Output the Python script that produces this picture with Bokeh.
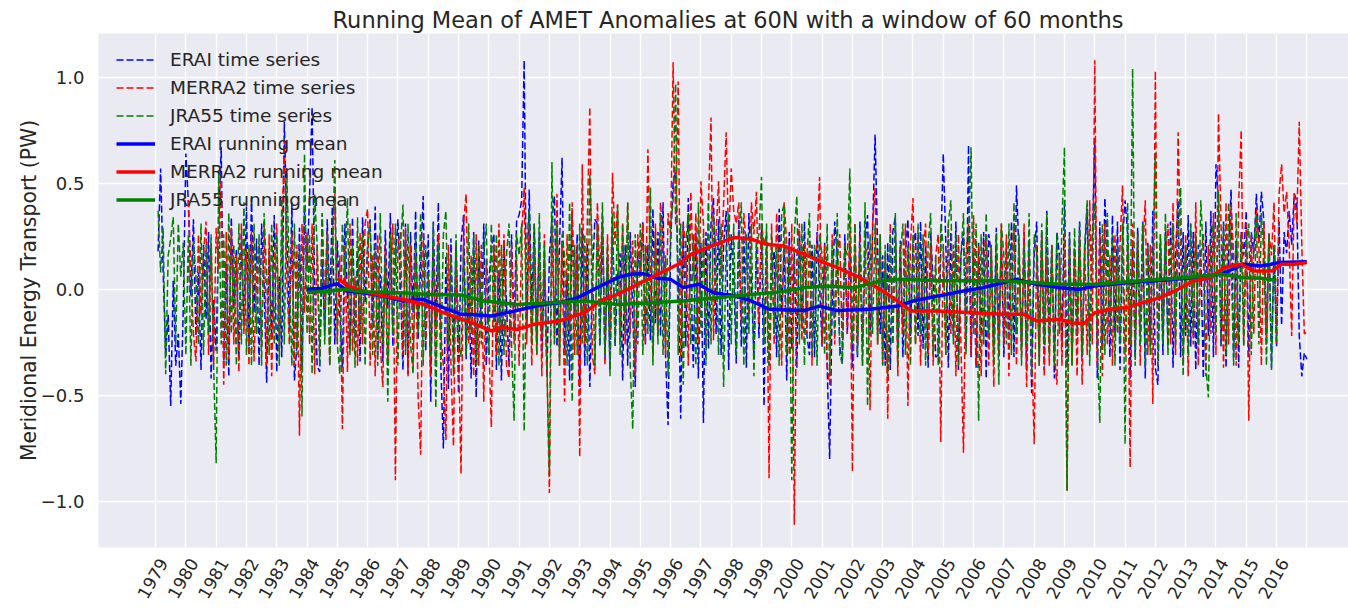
import math
from bokeh.plotting import figure
from bokeh.models import Range1d, FixedTicker, Legend, LegendItem
from bokeh.embed import file_html
from bokeh.resources import INLINE

# ---------------- data ----------------
years = ["1979", "1980", "1981", "1982", "1983", "1984", "1985", "1986", "1987", "1988",
         "1989", "1990", "1991", "1992", "1993", "1994", "1995", "1996", "1997", "1998",
         "1999", "2000", "2001", "2002", "2003", "2004", "2005", "2006", "2007", "2008",
         "2009", "2010", "2011", "2012", "2013", "2014", "2015", "2016"]
y_ticks = [-1.0, -0.5, 0.0, 0.5, 1.0]
y_tick_labels = ["\u22121.0", "\u22120.5", "0.0", "0.5", "1.0"]

# monthly anomalies (PW), one row per year
erai_ts = [
    [0.18, 0.57, 0.09, -0.31, -0.12, -0.55, 0.04, -0.36, -0.21, -0.54, -0.08, 0.64],  # 1979
    [0.41, -0.03, 0.33, -0.22, 0.08, -0.38, 0.21, -0.14, 0.27, -0.42, -0.05, -0.29],
    [0.31, 0.67, -0.36, 0.12, -0.41, 0.34, -0.09, 0.19, -0.33, 0.26, -0.17, 0.39],
    [-0.27, 0.43, -0.11, 0.24, -0.36, 0.31, 0.02, -0.44, 0.18, -0.23, 0.35, -0.39],
    [0.06, -0.32, 0.79, 0.28, -0.18, 0.41, -0.43, -0.26, 0.29, -0.38, 0.37, 0.11],
    [0.44, 0.86, 0.02, -0.36, -0.39, 0.14, -0.21, 0.33, -0.07, 0.39, -0.26, 0.23],
    [-0.12, -0.37, 0.31, -0.04, -0.28, 0.34, -0.23, 0.17, -0.34, 0.34, -0.06, 0.21],
    [0.33, -0.18, 0.39, -0.31, 0.07, -0.34, 0.28, -0.09, 0.36, -0.27, 0.13, 0.33],
    [0.02, -0.38, 0.31, -0.40, 0.27, -0.11, 0.37, -0.24, 0.12, 0.44, -0.29, 0.26],
    [-0.53, 0.32, -0.17, 0.41, -0.36, -0.75, 0.16, -0.47, 0.24, -0.31, 0.21, -0.49],
    [0.22, 0.35, -0.33, 0.06, -0.42, 0.27, -0.51, 0.23, -0.18, 0.31, -0.36, 0.04],
    [0.19, 0.26, -0.38, 0.09, -0.43, 0.23, -0.07, -0.36, 0.26, -0.19, 0.32, 0.35],
    [0.42, 1.08, -0.21, 0.47, -0.08, 0.31, -0.26, 0.27, -0.32, 0.09, -0.41, 0.16],
    [0.33, 0.44, -0.27, 0.21, 0.62, -0.31, 0.07, -0.43, 0.37, -0.13, 0.26, -0.46],
    [0.28, -0.36, 0.22, -0.46, 0.04, 0.33, 0.31, -0.27, 0.32, -0.33, 0.16, -0.38],
    [0.31, -0.27, 0.06, 0.17, -0.43, 0.21, -0.36, 0.27, -0.12, -0.46, 0.18, 0.07],
    [0.32, -0.26, 0.21, -0.24, 0.38, -0.16, 0.27, -0.22, 0.41, -0.31, -0.64, 0.21],
    [0.51, 0.55, 0.08, -0.61, 0.32, -0.27, 0.43, 0.06, -0.37, 0.27, -0.42, 0.22],
    [-0.63, 0.27, -0.28, 0.31, 0.43, -0.21, 0.33, -0.31, 0.21, 0.37, -0.38, 0.26],
    [0.07, -0.35, 0.33, -0.27, 0.28, -0.37, 0.36, 0.04, -0.32, 0.22, -0.23, 0.31],
    [-0.55, 0.22, -0.36, 0.07, 0.18, -0.32, 0.38, -0.12, 0.21, -0.43, 0.27, -0.28],
    [0.17, -0.37, 0.27, -0.16, 0.32, -0.22, -0.31, 0.21, -0.32, 0.27, 0.03, -0.27],
    [0.22, -0.36, -0.80, -0.07, 0.32, 0.16, -0.27, -0.35, 0.26, -0.21, 0.22, -0.37],
    [0.17, -0.32, 0.32, -0.27, 0.21, 0.35, -0.22, 0.27, 0.73, 0.19, -0.21, 0.16],
    [-0.36, 0.22, -0.38, 0.27, 0.34, -0.27, 0.23, -0.32, 0.17, 0.33, -0.22, 0.21],
    [0.27, -0.22, 0.32, -0.28, 0.21, -0.37, 0.27, 0.03, -0.32, -0.31, 0.18, 0.64],
    [0.22, -0.37, 0.27, -0.22, 0.32, -0.38, 0.16, 0.27, -0.27, 0.68, -0.32, 0.17],
    [-0.37, 0.22, -0.22, 0.27, -0.42, 0.26, 0.17, -0.27, 0.29, -0.22, 0.21, -0.32],
    [0.22, -0.22, 0.32, -0.32, 0.49, 0.16, -0.27, 0.27, -0.38, 0.21, -0.49, 0.17],
    [0.32, -0.27, 0.27, -0.38, 0.37, -0.22, 0.21, -0.42, 0.27, 0.16, -0.27, 0.42],
    [-0.37, 0.27, -0.32, 0.22, -0.22, 0.32, -0.32, 0.17, 0.38, -0.27, 0.21, 0.70],
    [-0.42, 0.32, -0.27, 0.43, 0.17, -0.32, 0.35, -0.22, 0.32, -0.38, 0.22, 0.42],
    [0.27, -0.42, 0.21, -0.32, 0.29, -0.22, 0.32, -0.42, 0.22, -0.27, 0.37, -0.37],
    [-0.45, 0.22, -0.31, 0.27, -0.27, 0.32, -0.37, 0.17, 0.42, -0.32, 0.27, -0.22],
    [0.35, -0.27, 0.27, -0.38, 0.21, 0.17, -0.42, 0.32, -0.22, 0.37, -0.32, 0.59],
    [0.42, -0.27, 0.32, -0.37, 0.17, 0.47, -0.32, 0.22, -0.37, 0.27, 0.16, 0.37],
    [-0.32, 0.27, 0.17, 0.45, 0.22, 0.46, 0.32, -0.22, 0.27, -0.37, 0.21, -0.27],
    [0.32, -0.17, 0.27, 0.17, 0.37, 0.21, 0.45, 0.42, -0.22, -0.41, -0.30, -0.33],  # 2016
]

merra2_ts = [
    [0.42, 0.08, -0.21, -0.34, 0.26, -0.12, 0.17, 0.32, -0.31, 0.21, -0.36, 0.29],  # 1980
    [0.09, 0.54, -0.45, 0.27, -0.33, 0.29, -0.26, 0.16, -0.39, 0.31, -0.21, 0.19],
    [-0.36, 0.27, -0.34, 0.06, 0.21, -0.27, 0.32, -0.36, 0.26, -0.41, 0.14, 0.31],
    [-0.29, 0.23, 0.70, 0.04, -0.26, 0.27, -0.36, 0.21, -0.69, 0.31, -0.11, 0.27],
    [-0.26, 0.31, -0.40, 0.21, -0.31, 0.36, -0.09, 0.27, -0.36, 0.19, 0.45, -0.26],
    [0.16, -0.66, 0.21, -0.39, 0.31, -0.29, 0.06, -0.36, 0.27, -0.26, 0.31, 0.38],
    [-0.36, 0.16, -0.41, 0.26, -0.26, -0.46, 0.21, -0.36, 0.06, 0.31, -0.90, 0.21],
    [0.27, -0.31, 0.29, -0.41, 0.21, -0.36, 0.16, -0.51, -0.78, 0.26, -0.26, 0.06],
    [-0.41, 0.21, -0.36, 0.26, -0.21, -0.36, -0.71, 0.21, -0.36, -0.74, 0.16, -0.31],
    [-0.87, 0.31, 0.45, -0.26, 0.16, -0.41, 0.26, -0.36, 0.21, -0.53, 0.14, -0.26],
    [-0.65, 0.21, -0.31, 0.31, -0.21, 0.26, -0.36, -0.42, 0.21, -0.26, 0.16, -0.36],
    [0.26, 0.48, -0.26, 0.31, -0.36, 0.21, -0.31, 0.16, -0.41, 0.26, -0.36, -0.96],
    [0.31, -0.26, 0.45, -0.36, 0.21, -0.53, 0.26, -0.21, 0.41, -0.31, 0.21, -0.79],
    [0.59, -0.26, 0.31, 0.86, -0.31, -0.40, 0.41, 0.06, 0.36, -0.36, 0.26, -0.21],
    [0.55, 0.21, 0.40, -0.24, 0.31, -0.26, 0.41, -0.21, 0.23, -0.41, 0.26, 0.06],
    [0.31, -0.26, 0.66, 0.06, -0.32, 0.31, -0.21, 0.41, 0.21, -0.31, 0.36, 0.26],
    [1.07, 0.30, 0.98, -0.32, 0.31, 0.21, -0.36, 0.46, 0.06, 0.36, -0.26, 0.51],
    [0.31, -0.26, 0.41, 0.81, -0.24, 0.26, 0.51, 0.06, 0.41, 0.74, 0.21, 0.57],
    [0.37, 0.31, 0.41, -0.16, 0.36, 0.21, -0.13, 0.41, 0.26, 0.46, -0.16, 0.31],
    [0.21, 0.26, -0.89, 0.31, -0.26, 0.36, 0.06, -0.36, 0.41, 0.21, -0.31, 0.31],
    [-1.11, 0.16, 0.31, -0.24, 0.21, -0.21, 0.26, -0.36, 0.16, 0.21, 0.53, -0.26],
    [0.21, -0.36, -0.45, 0.26, -0.26, 0.16, 0.26, -0.31, 0.21, -0.21, 0.35, -0.86],
    [0.31, -0.26, 0.26, -0.36, 0.16, 0.21, -0.57, 0.31, 0.48, -0.26, 0.26, -0.36],
    [0.16, -0.61, 0.31, -0.26, 0.26, -0.41, 0.21, -0.21, 0.31, -0.55, 0.21, 0.43],
    [-0.26, 0.26, -0.36, 0.16, 0.31, -0.31, 0.21, -0.36, 0.16, 0.26, -0.72, 0.21],
    [-0.31, 0.31, -0.21, 0.21, -0.41, 0.26, -0.26, -0.77, 0.16, 0.31, -0.31, 0.35],
    [-0.36, 0.21, -0.41, 0.16, 0.26, -0.36, 0.21, -0.46, 0.16, -0.31, 0.31, -0.26],
    [0.26, -0.41, 0.16, 0.31, -0.36, 0.21, -0.31, 0.31, -0.46, 0.16, -0.26, -0.73],
    [0.21, -0.36, 0.26, -0.41, 0.16, -0.36, 0.21, -0.31, -0.45, 0.16, -0.36, 0.26],
    [-0.95, 0.21, -0.36, 0.16, -0.41, 0.26, -0.45, 0.21, -0.31, 0.42, -0.26, 1.08],
    [-0.36, 0.26, -0.41, 0.31, -0.26, 0.16, -0.36, 0.26, -0.21, 0.21, 0.49, -0.31],
    [0.21, -0.84, 0.31, -0.26, 0.26, -0.36, 0.16, 0.42, -0.31, 0.21, -0.54, 1.03],
    [-0.36, 0.26, -0.16, 0.16, 0.31, -0.26, 0.41, -0.31, 0.74, 0.21, -0.36, 0.26],
    [-0.41, 0.31, -0.26, 0.41, -0.36, 0.16, 0.26, -0.41, 0.21, -0.21, 0.36, -0.31],
    [0.83, 0.31, -0.37, 0.41, -0.26, 0.40, 0.16, -0.36, 0.41, 0.75, -0.26, 0.31],
    [-0.62, 0.26, -0.21, 0.38, 0.21, -0.36, 0.31, -0.26, 0.26, 0.16, 0.41, -0.26],
    [0.45, 0.59, 0.36, 0.46, 0.21, -0.22, 0.46, 0.31, 0.79, 0.21, -0.21, -0.20],  # 2016
]

jra55_ts = [
    [0.37, 0.08, 0.29, -0.40, 0.16, 0.24, 0.34, -0.26, 0.31, 0.06, 0.22, -0.31],  # 1979
    [0.26, -0.36, 0.23, 0.06, -0.26, 0.31, -0.31, 0.21, -0.21, 0.26, -0.36, -0.82],
    [0.55, -0.26, 0.26, -0.36, 0.36, -0.21, 0.21, -0.36, 0.31, -0.26, 0.41, -0.31],
    [0.21, -0.36, 0.31, -0.21, 0.26, -0.36, 0.36, 0.06, -0.31, 0.31, -0.26, 0.26],
    [-0.36, 0.43, -0.26, 0.55, 0.06, -0.36, 0.31, -0.31, 0.21, -0.60, 0.64, -0.21],
    [0.26, -0.40, 0.45, 0.21, -0.36, 0.36, -0.26, 0.26, -0.36, 0.16, 0.61, -0.26],
    [-0.40, 0.31, 0.06, 0.43, -0.31, 0.21, -0.37, 0.34, -0.21, 0.26, -0.36, 0.21],
    [0.31, -0.31, 0.21, -0.36, 0.36, -0.26, 0.16, -0.53, 0.26, -0.21, 0.31, -0.36],
    [0.21, 0.40, -0.31, 0.31, -0.26, -0.40, 0.26, -0.21, 0.36, -0.36, 0.21, 0.06],
    [-0.31, 0.31, -0.56, 0.21, -0.36, 0.26, 0.37, -0.26, 0.16, -0.41, 0.26, -0.21],
    [-0.32, 0.21, -0.31, 0.31, -0.21, 0.26, -0.36, 0.21, -0.26, 0.16, 0.31, -0.31],
    [0.31, -0.21, 0.26, -0.36, 0.21, -0.31, 0.16, 0.31, -0.26, -0.62, 0.26, 0.16],
    [0.31, -0.67, 0.21, 0.38, -0.26, 0.31, -0.31, 0.36, -0.21, 0.21, -0.36, -0.88],
    [0.60, -0.26, 0.31, -0.36, 0.26, 0.16, -0.36, 0.41, -0.53, 0.21, -0.31, 0.31],
    [-0.26, 0.26, -0.36, 0.54, 0.16, -0.36, 0.31, -0.26, 0.41, -0.31, 0.21, -0.41],
    [0.36, -0.26, 0.40, -0.31, 0.31, -0.21, 0.41, -0.36, -0.66, 0.26, -0.26, 0.31],
    [-0.31, 0.21, -0.21, 0.48, -0.36, 0.26, -0.26, 0.36, -0.31, 0.16, -0.41, 0.31],
    [0.41, 0.97, -0.31, 0.31, -0.45, 0.21, 0.36, -0.26, 0.26, -0.36, 0.41, -0.21],
    [0.26, -0.36, 0.41, -0.26, 0.35, 0.16, -0.31, 0.31, -0.46, 0.21, 0.36, -0.26],
    [0.31, -0.31, 0.21, 0.41, -0.36, 0.26, -0.21, 0.31, -0.41, 0.21, 0.26, 0.53],
    [-0.26, 0.31, -0.36, 0.26, -0.21, 0.21, -0.36, 0.36, 0.40, -0.31, 0.21, -0.90],
    [0.26, 0.44, -0.26, 0.31, -0.36, 0.16, 0.36, -0.31, 0.21, -0.36, 0.26, 0.16],
    [-0.31, 0.31, -0.41, 0.21, -0.21, 0.36, -0.31, -0.35, 0.21, 0.16, 0.57, -0.26],
    [0.31, -0.31, 0.21, -0.36, 0.41, -0.55, 0.26, -0.21, 0.31, -0.26, 0.26, -0.36],
    [0.21, -0.41, 0.26, -0.26, 0.36, -0.36, 0.16, 0.31, -0.31, 0.21, -0.36, 0.26],
    [-0.26, 0.31, -0.21, 0.26, -0.36, 0.21, 0.36, -0.31, 0.16, -0.36, 0.31, 0.21],
    [-0.31, 0.31, 0.42, -0.26, 0.26, -0.36, 0.16, 0.36, -0.31, 0.21, 0.67, -0.21],
    [0.31, -0.62, 0.26, -0.26, 0.36, -0.21, 0.21, -0.36, 0.26, -0.45, 0.31, 0.16],
    [-0.26, 0.31, -0.31, 0.41, -0.21, 0.26, -0.36, 0.21, -0.26, 0.36, -0.41, 0.26],
    [0.16, -0.36, 0.31, -0.26, 0.36, -0.31, 0.21, -0.36, 0.26, -0.21, 0.31, 0.67],
    [-0.95, 0.26, -0.36, 0.29, -0.21, 0.31, -0.31, 0.21, 0.42, -0.36, 0.26, 0.41],
    [-0.26, -0.63, 0.31, -0.31, 0.36, -0.21, 0.26, -0.36, 0.21, -0.26, 0.31, -0.73],
    [0.41, -0.26, 1.04, -0.36, 0.26, -0.26, 0.31, -0.36, 0.21, -0.31, 0.16, 0.64],
    [-0.36, 0.26, -0.26, 0.36, -0.31, 0.16, 0.31, -0.26, 0.26, 0.48, -0.41, 0.21],
    [-0.31, 0.31, -0.21, 0.26, -0.26, 0.42, 0.16, -0.36, -0.51, 0.21, 0.31, -0.21],
    [0.46, -0.26, 0.31, -0.31, 0.41, 0.16, -0.36, 0.36, -0.26, 0.26, -0.27, 0.21],
    [0.31, -0.31, 0.21, 0.35, -0.26, 0.36, 0.16, -0.36, 0.26, -0.38, 0.21, -0.26],  # 2015
]

# running means (60-month window), read at selected months (month 1 = Jan 1979)
erai_rm_month = [60, 66, 69, 72, 76, 82, 90, 98, 106, 114, 121, 126, 133, 143, 154, 160, 167,
                 175, 183, 188, 193, 199, 204, 209, 215, 221, 229, 236, 243, 250, 257, 263,
                 270, 283, 294, 300, 310, 320, 328, 333, 341, 349, 358, 366, 372, 385, 398,
                 411, 422, 431, 438, 445, 456]
erai_rm = [0.00, 0.005, 0.016, 0.027, -0.008, -0.016, -0.03, -0.055, -0.047, -0.086, -0.118,
           -0.12, -0.126, -0.10, -0.071, -0.063, -0.04, 0.008, 0.055, 0.071, 0.074, 0.052,
           0.047, 0.008, 0.024, -0.016, -0.03, -0.055, -0.094, -0.097, -0.10, -0.079, -0.10,
           -0.094, -0.079, -0.055, -0.031, -0.008, 0.008, 0.024, 0.047, 0.024, 0.008, 0.00,
           0.016, 0.031, 0.042, 0.055, 0.071, 0.118, 0.11, 0.126, 0.13]
merra2_rm_month = [72, 76, 82, 90, 98, 106, 114, 121, 125, 133, 137, 143, 150, 160, 170, 176,
                   183, 191, 199, 207, 212, 220, 229, 236, 242, 249, 257, 263, 270, 279, 287,
                   294, 299, 310, 323, 336, 344, 349, 358, 364, 368, 372, 378, 385, 391, 398,
                   405, 411, 418, 423, 430, 435, 442, 446, 451, 456]
merra2_rm = [0.052, 0.016, -0.008, -0.03, -0.047, -0.07, -0.11, -0.14, -0.157, -0.196, -0.18,
             -0.189, -0.165, -0.149, -0.11, -0.055, -0.024, 0.024, 0.071, 0.118, 0.165, 0.204,
             0.244, 0.236, 0.212, 0.204, 0.165, 0.134, 0.102, 0.055, 0.0, -0.055, -0.102,
             -0.102, -0.11, -0.118, -0.118, -0.149, -0.141, -0.16, -0.16, -0.11, -0.094,
             -0.086, -0.063, -0.039, 0.0, 0.039, 0.055, 0.102, 0.118, 0.086, 0.086, 0.118,
             0.118, 0.126]
jra55_rm_month = [60, 69, 75, 82, 96, 109, 121, 130, 143, 156, 170, 183, 196, 209, 222, 236,
                  248, 257, 265, 277, 287, 296, 310, 323, 336, 349, 358, 372, 385, 398, 411,
                  422, 431, 438, 444]
jra55_rm = [-0.016, -0.008, 0.0, -0.011, -0.016, -0.024, -0.027, -0.055, -0.071, -0.063,
            -0.055, -0.071, -0.063, -0.055, -0.04, -0.024, -0.011, 0.008, 0.016, 0.008, 0.04,
            0.047, 0.04, 0.04, 0.04, 0.031, 0.024, 0.024, 0.036, 0.047, 0.058, 0.071, 0.055,
            0.052, 0.042]

erai_first_month = 1     # Jan 1979
merra2_first_month = 13  # Jan 1980
jra55_first_month = 1    # Jan 1979

# ---------------- flatten ----------------
def flat(rows):
    out = []
    for r in rows:
        out.extend(r)
    return out

erai_y = flat(erai_ts)
merra2_y = flat(merra2_ts)
jra55_y = flat(jra55_ts)
erai_x = list(range(erai_first_month, erai_first_month + len(erai_y)))
merra2_x = list(range(merra2_first_month, merra2_first_month + len(merra2_y)))
jra55_x = list(range(jra55_first_month, jra55_first_month + len(jra55_y)))

# ---------------- figure ----------------
TXT = "#262626"
FONT = "DejaVu Sans"
Y0, Y1 = -1.217, 1.206

p = figure(width=1348, height=612, output_backend="svg", toolbar_location=None,
           x_range=Range1d(-22.6, 472.5), y_range=Range1d(Y0, Y1),
           min_border_left=98, min_border_right=0, min_border_top=33, min_border_bottom=65)
p.background_fill_color = "#EAEAF2"
p.border_fill_color = "white"
p.outline_line_color = None

p.title.text = "Running Mean of AMET Anomalies at 60N with a window of 60 months"
p.title.text_font = FONT
p.title.text_font_size = "22.5px"
p.title.text_font_style = "normal"
p.title.text_color = TXT
p.title.align = "left"
p.title.offset = 234
p.title.standoff = 2

# grids
p.xgrid.ticker = FixedTicker(ticks=[12 * k for k in range(len(years) + 1)])
p.ygrid.ticker = FixedTicker(ticks=y_ticks)
for g in (p.xgrid, p.ygrid):
    g.grid_line_color = "white"
    g.grid_line_width = 1.4

# x axis: rotated year labels, centred on the year lines
LABEL_SHIFT = 3  # months
xa = p.xaxis[0]
xa.ticker = FixedTicker(ticks=[12 * k + LABEL_SHIFT for k in range(len(years))])
xa.major_label_overrides = {12 * k + LABEL_SHIFT: years[k] for k in range(len(years))}
xa.major_label_orientation = math.pi / 3
xa.major_label_text_font = FONT
xa.major_label_text_font_size = "17px"
xa.major_label_text_color = TXT
xa.major_label_standoff = 12
xa.axis_line_color = None
xa.major_tick_line_color = None
xa.minor_tick_line_color = None
xa.major_tick_out = 0
xa.major_tick_in = 0

ya = p.yaxis[0]
ya.ticker = FixedTicker(ticks=y_ticks)
ya.major_label_overrides = {y_ticks[i]: y_tick_labels[i] for i in range(len(y_ticks))}
ya.major_label_text_font = FONT
ya.major_label_text_font_size = "18px"
ya.major_label_text_color = TXT
ya.major_label_standoff = 14
ya.axis_line_color = None
ya.major_tick_line_color = None
ya.minor_tick_line_color = None
ya.major_tick_out = 0
ya.major_tick_in = 0
ya.axis_label = "Meridional Energy Transport (PW)"
ya.axis_label_text_font = FONT
ya.axis_label_text_font_size = "20.4px"
ya.axis_label_text_font_style = "normal"
ya.axis_label_text_color = TXT
ya.axis_label_standoff = -3

# lines
DASH = "7 3"
r1 = p.line(erai_x, erai_y, line_color="#0000FF", line_width=1.5, line_dash=DASH)
r2 = p.line(merra2_x, merra2_y, line_color="#FF0000", line_width=1.5, line_dash=DASH)
r3 = p.line(jra55_x, jra55_y, line_color="#008000", line_width=1.5, line_dash=DASH)
r4 = p.line(erai_rm_month, erai_rm, line_color="#0000FF", line_width=3.5)
r5 = p.line(merra2_rm_month, merra2_rm, line_color="#FF0000", line_width=3.5)
r6 = p.line(jra55_rm_month, jra55_rm, line_color="#008000", line_width=3.5)

legend = Legend(items=[
    LegendItem(label="ERAI time series", renderers=[r1]),
    LegendItem(label="MERRA2 time series", renderers=[r2]),
    LegendItem(label="JRA55 time series", renderers=[r3]),
    LegendItem(label="ERAI running mean", renderers=[r4]),
    LegendItem(label="MERRA2 running mean", renderers=[r5]),
    LegendItem(label="JRA55 running mean", renderers=[r6]),
], location=(18, 335))
legend.background_fill_alpha = 0
legend.border_line_color = None
legend.label_text_font = FONT
legend.label_text_font_size = "18.5px"
legend.label_text_color = TXT
legend.glyph_width = 39
legend.glyph_height = 25
legend.label_height = 25
legend.spacing = 3
legend.padding = 0
legend.margin = 0
legend.label_standoff = 15
p.add_layout(legend)

open("out.html", "w").write(file_html(p, INLINE))
